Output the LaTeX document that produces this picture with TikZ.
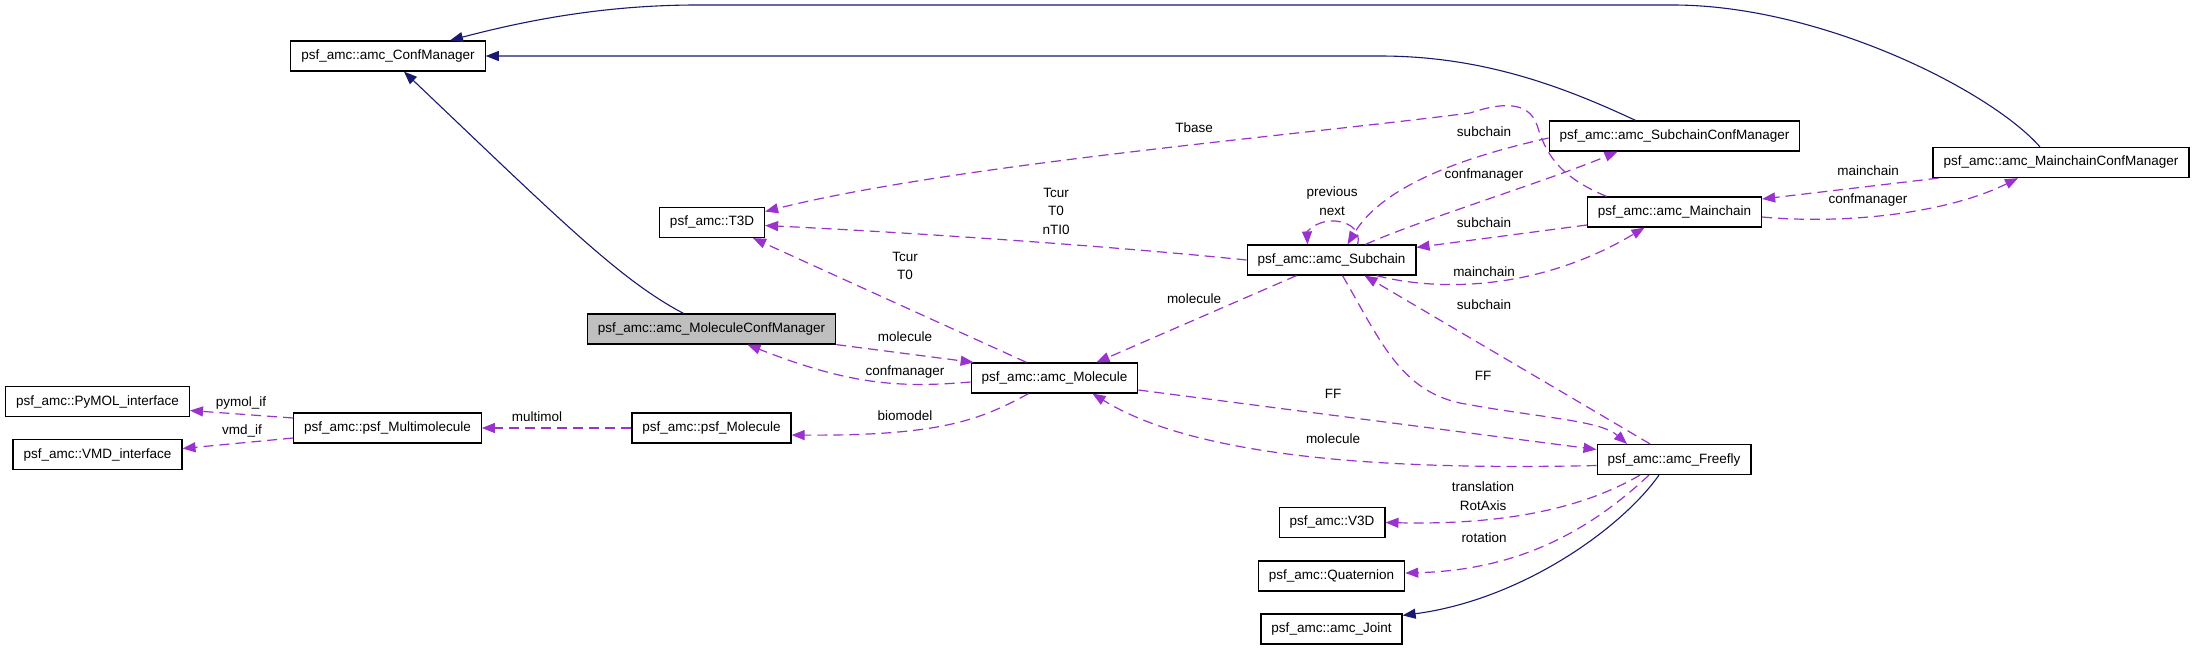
\documentclass[tikz,border=0pt]{standalone}
\usepackage{fontspec}
\setmainfont{Liberation Sans}
\usetikzlibrary{arrows.meta}
\definecolor{inhblue}{HTML}{191970}
\definecolor{usepurple}{HTML}{9A32CD}
\definecolor{docgray}{HTML}{BFBFBF}

\begin{document}
\begin{tikzpicture}[x=1pt, y=-1pt, every node/.style={font=\fontsize{13.5}{18.5}\selectfont},
    cls/.style={draw=black, line width=1.2pt, fill=white, minimum height=30pt, inner xsep=10.5pt, inner ysep=0pt},
    inh/.style={draw=inhblue, line width=1.1pt, -{Triangle[length=13pt,width=10pt]}},
    use/.style={draw=usepurple, line width=1.2pt, dash pattern=on 10pt off 6pt, -{Triangle[length=13pt,width=10pt]}},
    lbl/.style={align=center, inner sep=0pt}]
      \fill[white] (0,0) rectangle (2195,649);

      \node[cls] (conf) at (388,56) {psf\_amc::amc\_ConfManager};
      \node[cls] (t3d) at (712,222.5) {psf\_amc::T3D};
      \node[cls, fill=docgray] (mcm) at (711.5,329) {psf\_amc::amc\_MoleculeConfManager};
      \node[cls] (pymol) at (97.5,401.5) {psf\_amc::PyMOL\_interface};
      \node[cls] (vmd) at (97.5,454.5) {psf\_amc::VMD\_interface};
      \node[cls] (multi) at (387.5,428) {psf\_amc::psf\_Multimolecule};
      \node[cls] (psfmol) at (711.5,428) {psf\_amc::psf\_Molecule};
      \node[cls] (mol) at (1054.5,378) {psf\_amc::amc\_Molecule};
      \node[cls] (sub) at (1331.5,260) {psf\_amc::amc\_Subchain};
      \node[cls] (subcm) at (1674.5,136) {psf\_amc::amc\_SubchainConfManager};
      \node[cls] (main) at (1674.5,212) {psf\_amc::amc\_Mainchain};
      \node[cls] (maincm) at (2061,162.5) {psf\_amc::amc\_MainchainConfManager};
      \node[cls] (free) at (1674,459.5) {psf\_amc::amc\_Freefly};
      \node[cls] (v3d) at (1332,522.5) {psf\_amc::V3D};
      \node[cls] (quat) at (1331.5,576) {psf\_amc::Quaternion};
      \node[cls] (joint) at (1331.5,629) {psf\_amc::amc\_Joint};

      % inheritance
      \draw[inh] ([xshift=-21pt]maincm.north) .. controls (1990,90) and (1820,5) .. (1673,5) -- (697,5) .. controls (600,5) and (520,22) .. ([xshift=62pt]conf.north);
      \draw[inh] ([xshift=-39pt]subcm.north) .. controls (1560,85) and (1480,56) .. (1380,56) -- (conf.east);
      \draw[inh] ([xshift=-28pt]mcm.north) .. controls (620,280) and (560,220) .. ([xshift=16pt]conf.south);
      \draw[inh] ([xshift=-15pt]free.south) .. controls (1620,530) and (1520,600) .. ([yshift=-2pt]joint.north east);

      % members
      \draw[use] ([xshift=-68pt]main.north) .. controls (1555,175) and (1545,150) .. (1537,125) .. controls (1528,100) and (1500,103) .. (1470,113) .. controls (1300,135) and (950,165) .. ([yshift=11pt]t3d.east);
      \draw[use] (sub.west) .. controls (1100,245) and (900,232) .. ([yshift=-3pt]t3d.east);
      \draw[use] ([xshift=-28pt]mol.north) -- ([xshift=41pt]t3d.south);
      \draw[use] ([xshift=-35pt]sub.south) -- ([xshift=42pt]mol.north);
      \draw[use] (mcm.south east) -- ([xshift=3pt]mol.north west);
      \draw[use] ([yshift=-4pt]mol.west) .. controls (900,388) and (850,385) .. ([xshift=36pt]mcm.south);
      \draw[use] ([xshift=-26pt]mol.south) .. controls (980,420) and (940,436) .. ([yshift=-7pt]psfmol.east);
      \draw[use] (psfmol.west) -- (multi.east);
      \draw[use] ([yshift=10pt]multi.west) -- ([yshift=-9pt]pymol.east);
      \draw[use] ([yshift=-10pt]multi.west) -- ([yshift=6pt]vmd.east);
      \draw[use] ([xshift=26pt]sub.north) .. controls (1362,228) and (1345,220) .. (1330,221) .. controls (1315,222) and (1307,232) .. ([xshift=-24pt]sub.north);
      \draw[use] ([yshift=-2pt]subcm.west) .. controls (1450,160) and (1380,190) .. ([xshift=16pt]sub.north);
      \draw[use] ([xshift=34pt]sub.north) .. controls (1420,220) and (1550,180) .. ([xshift=-57pt]subcm.south);
      \draw[use] ([yshift=-13pt]main.west) -- ([yshift=-3pt]sub.north east);
      \draw[use] ([xshift=45pt]sub.south) .. controls (1440,292) and (1540,290) .. ([xshift=-30pt]main.south);
      \draw[use] ([xshift=6pt]maincm.south west) -- ([yshift=13pt]main.east);
      \draw[use] ([yshift=-5pt]main.east) .. controls (1850,225) and (1950,212) .. ([xshift=-43pt]maincm.south);
      \draw[use] ([xshift=11pt]sub.south) .. controls (1380,340) and (1400,390) .. (1460,403) .. controls (1540,418) and (1600,420) .. ([xshift=-47pt]free.north);
      \draw[use] ([xshift=-24pt]free.north) -- ([xshift=33pt]sub.south);
      \draw[use] ([yshift=-12pt]mol.east) -- ([yshift=10pt]free.west);
      \draw[use] ([yshift=-6pt]free.west) .. controls (1400,470) and (1200,460) .. ([xshift=38pt]mol.south);
      \draw[use] ([xshift=-34pt]free.south) .. controls (1580,510) and (1500,525) .. (v3d.east);
      \draw[use] ([xshift=-25pt]free.south) .. controls (1590,530) and (1520,570) .. ([yshift=3pt]quat.east);

      \node[lbl] (lTbase) at (1194,128) {Tbase};
      \node[lbl] (lTsub) at (1056,211) {Tcur\\T0\\nTI0};
      \node[lbl] (lTmol) at (905,266) {Tcur\\T0};
      \node[lbl] (lprevnext) at (1332,201) {previous\\next};
      \node[lbl] (lsc1) at (1484,132) {subchain};
      \node[lbl] (lcm1) at (1484,175) {confmanager};
      \node[lbl] (lsc2) at (1484,223) {subchain};
      \node[lbl] (lmc1) at (1484,272) {mainchain};
      \node[lbl] (lsc3) at (1484,305) {subchain};
      \node[lbl] (lmc2) at (1868,171) {mainchain};
      \node[lbl] (lcm2) at (1868,200) {confmanager};
      \node[lbl] (lmolsub) at (1194,299) {molecule};
      \node[lbl] (lmolmcm) at (905,337) {molecule};
      \node[lbl] (lcmmol) at (905,372) {confmanager};
      \node[lbl] (lbio) at (905,416) {biomodel};
      \node[lbl] (lmulti) at (537,417) {multimol};
      \node[lbl] (lpymol) at (241,403) {pymol\_if};
      \node[lbl] (lvmd) at (242,431) {vmd\_if};
      \node[lbl] (lFFsub) at (1483,376) {FF};
      \node[lbl] (lFFmol) at (1333,394) {FF};
      \node[lbl] (lmolfree) at (1333,439) {molecule};
      \node[lbl] (ltrans) at (1483,496) {translation\\RotAxis};
      \node[lbl] (lrot) at (1484,538) {rotation};
    \end{tikzpicture}
\end{document}
